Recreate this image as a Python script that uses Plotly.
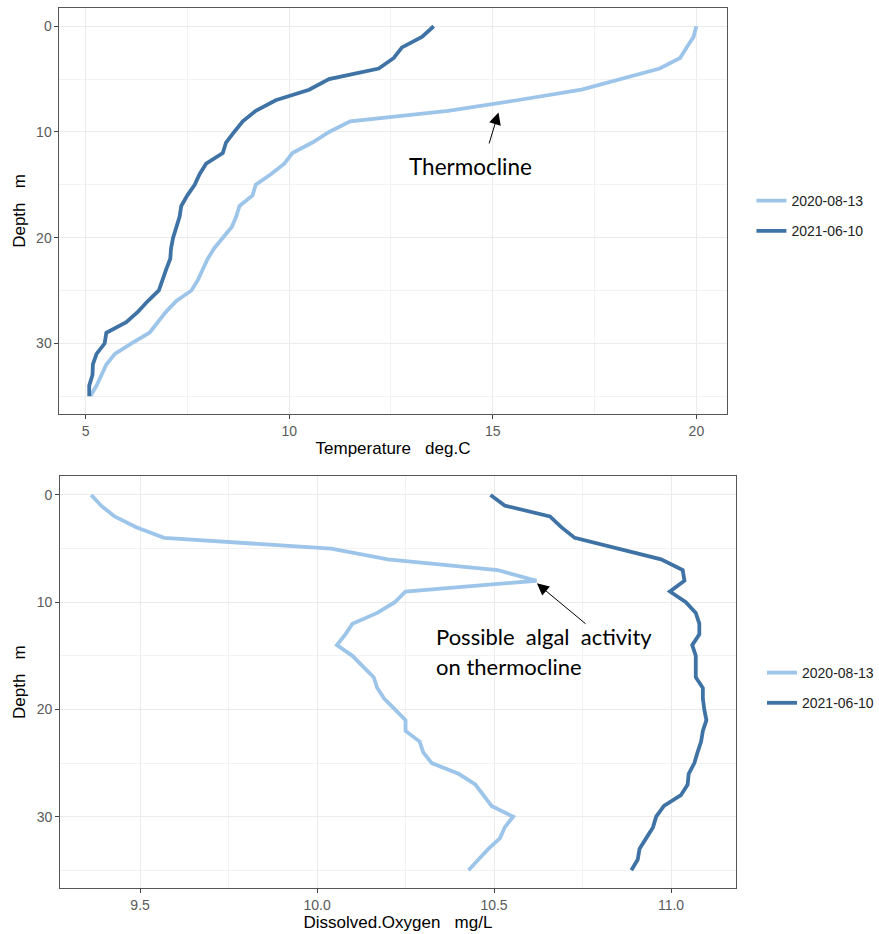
import plotly.graph_objects as go

depth = list(range(36))

temp_2020 = [20.0, 19.93, 19.76, 19.6, 19.1, 18.1, 17.18, 15.6, 13.9, 11.5,
             10.98, 10.57, 10.08, 9.88, 9.55, 9.18, 9.1, 8.78, 8.7, 8.59,
             8.37, 8.16, 8.0, 7.88, 7.76, 7.6, 7.23, 6.98, 6.78, 6.57,
             6.13, 5.72, 5.51, 5.39, 5.27, 5.12]
temp_2021 = [13.55, 13.26, 12.77, 12.57, 12.2, 10.98, 10.49, 9.67, 9.18, 8.86,
             8.65, 8.45, 8.37, 7.96, 7.8, 7.68, 7.5, 7.35, 7.31, 7.23,
             7.15, 7.1, 7.08, 6.98, 6.9, 6.8, 6.53, 6.29, 6.0, 5.51,
             5.47, 5.27, 5.18, 5.17, 5.09, 5.09]

do_2020 = [9.362, 9.39, 9.428, 9.489, 9.568, 10.04, 10.2, 10.51, 10.62, 10.25,
           10.22, 10.17, 10.1, 10.08, 10.056, 10.1, 10.13, 10.16, 10.17, 10.19,
           10.22, 10.25, 10.25, 10.29, 10.30, 10.324, 10.40, 10.447, 10.47, 10.493,
           10.554, 10.53, 10.517, 10.484, 10.456, 10.428]
do_2021 = [10.49, 10.531, 10.658, 10.69, 10.728, 10.85, 10.972, 11.033, 11.038, 10.997,
           11.042, 11.07, 11.08, 11.08, 11.06, 11.07, 11.07, 11.07, 11.09, 11.09,
           11.094, 11.1, 11.09, 11.085, 11.075, 11.066, 11.05, 11.047, 11.028, 10.98,
           10.958, 10.949, 10.93, 10.911, 10.906, 10.888]

dates = ["2020-08-13", "2021-06-10"]
colors = ["#9DC5EA", "#3F73A5"]

W, H = 879, 934
fig = go.Figure()

for i, (vals, d) in enumerate(zip([temp_2020, temp_2021], dates)):
    fig.add_trace(go.Scatter(x=vals, y=depth, mode="lines", name=d,
                             line=dict(color=colors[i], width=3.8),
                             xaxis="x", yaxis="y", legend="legend",
                             legendgroup="t" + str(i)))
for i, (vals, d) in enumerate(zip([do_2020, do_2021], dates)):
    fig.add_trace(go.Scatter(x=vals, y=depth, mode="lines", name=d,
                             line=dict(color=colors[i], width=3.8),
                             xaxis="x2", yaxis="y2", legend="legend2",
                             legendgroup="d" + str(i)))

tickfont = dict(family="Liberation Sans, Arial", size=14, color="#5A5A5A")
titlefont = dict(family="Liberation Sans, Arial", size=17, color="#000000")
grid = dict(showgrid=True, gridcolor="#EBEBEB", gridwidth=1.2, zeroline=False,
            showline=True, mirror=True, linecolor="#555555", linewidth=1,
            ticks="outside", ticklen=4, tickcolor="#444444", tickwidth=1,
            tickfont=tickfont)
minor = dict(showgrid=True, gridcolor="#F2F2F2", gridwidth=0.8, ticks="")

def px_x(p):
    return p / W

def px_y(p):
    return 1 - p / H

fig.update_layout(
    width=W, height=H, margin=dict(l=0, r=0, t=0, b=0),
    plot_bgcolor="white", paper_bgcolor="white",
    xaxis=dict(domain=[px_x(59.7), px_x(729)], range=[4.36, 20.74], tickvals=[5, 10, 15, 20],
               minor=dict(dtick=2.5, tick0=0, **minor),
               title=dict(text="Temperature\u00a0\u00a0 deg.C", font=titlefont, standoff=4),
               anchor="y", **grid),
    yaxis=dict(domain=[px_y(414), px_y(8)], range=[36.69, -1.73], tickvals=[0, 10, 20, 30],
               minor=dict(dtick=5, tick0=0, **minor),
               title=dict(text="Depth\u00a0\u00a0 m", font=titlefont, standoff=6),
               anchor="x", **grid),
    xaxis2=dict(domain=[px_x(60.3), px_x(738.3)], range=[9.274, 11.183],
                tickvals=[9.5, 10.0, 10.5, 11.0], ticktext=["9.5", "10.0", "10.5", "11.0"],
                minor=dict(dtick=0.25, tick0=0, **minor),
                title=dict(text="Dissolved.Oxygen\u00a0\u00a0 mg/L", font=titlefont, standoff=4),
                anchor="y2", **grid),
    yaxis2=dict(domain=[px_y(888.3), px_y(476)], range=[36.68, -1.77], tickvals=[0, 10, 20, 30],
                minor=dict(dtick=5, tick0=0, **minor),
                title=dict(text="Depth\u00a0\u00a0 m", font=titlefont, standoff=6),
                anchor="x2", **grid),
    legend=dict(x=px_x(754), y=px_y(216), xanchor="left", yanchor="middle",
                font=dict(family="Liberation Sans, Arial", size=14, color="#222222"),
                tracegroupgap=9, bgcolor="rgba(0,0,0,0)"),
    legend2=dict(x=px_x(765), y=px_y(688), xanchor="left", yanchor="middle",
                 font=dict(family="Liberation Sans, Arial", size=14, color="#222222"),
                 tracegroupgap=9, bgcolor="rgba(0,0,0,0)"),
    showlegend=True,
)

annot_font = dict(family="Lato, Carlito, Open Sans", size=22.5, color="#000000")
annot_font2 = dict(family="Lato, Carlito, Open Sans", size=22, color="#000000")
fig.add_annotation(x=15.14, y=8.17, ax=14.9, ay=11.23, xref="x", yref="y",
                   axref="x", ayref="y", text="", showarrow=True,
                   arrowhead=2, arrowsize=2.4, arrowwidth=1, arrowcolor="black")
fig.add_annotation(x=14.45, y=13.3, xref="x", yref="y", text="Thermocline",
                   showarrow=False, xanchor="center", yanchor="middle", font=annot_font)
fig.add_annotation(x=10.621, y=8.24, ax=10.763, ay=12.13, xref="x2", yref="y2",
                   axref="x2", ayref="y2", text="", showarrow=True,
                   arrowhead=2, arrowsize=2.4, arrowwidth=1, arrowcolor="black")
fig.add_annotation(x=10.331, y=13.22, xref="x2", yref="y2",
                   text="Possible\u00a0 algal\u00a0 activity",
                   showarrow=False, xanchor="left", yanchor="middle", font=annot_font2)
fig.add_annotation(x=10.331, y=16.02, xref="x2", yref="y2", text="on thermocline",
                   showarrow=False, xanchor="left", yanchor="middle", font=annot_font2)

fig.write_html("out.html", config={"displayModeBar": False},
               post_script="document.body.style.margin='0';document.body.style.overflow='hidden';")
